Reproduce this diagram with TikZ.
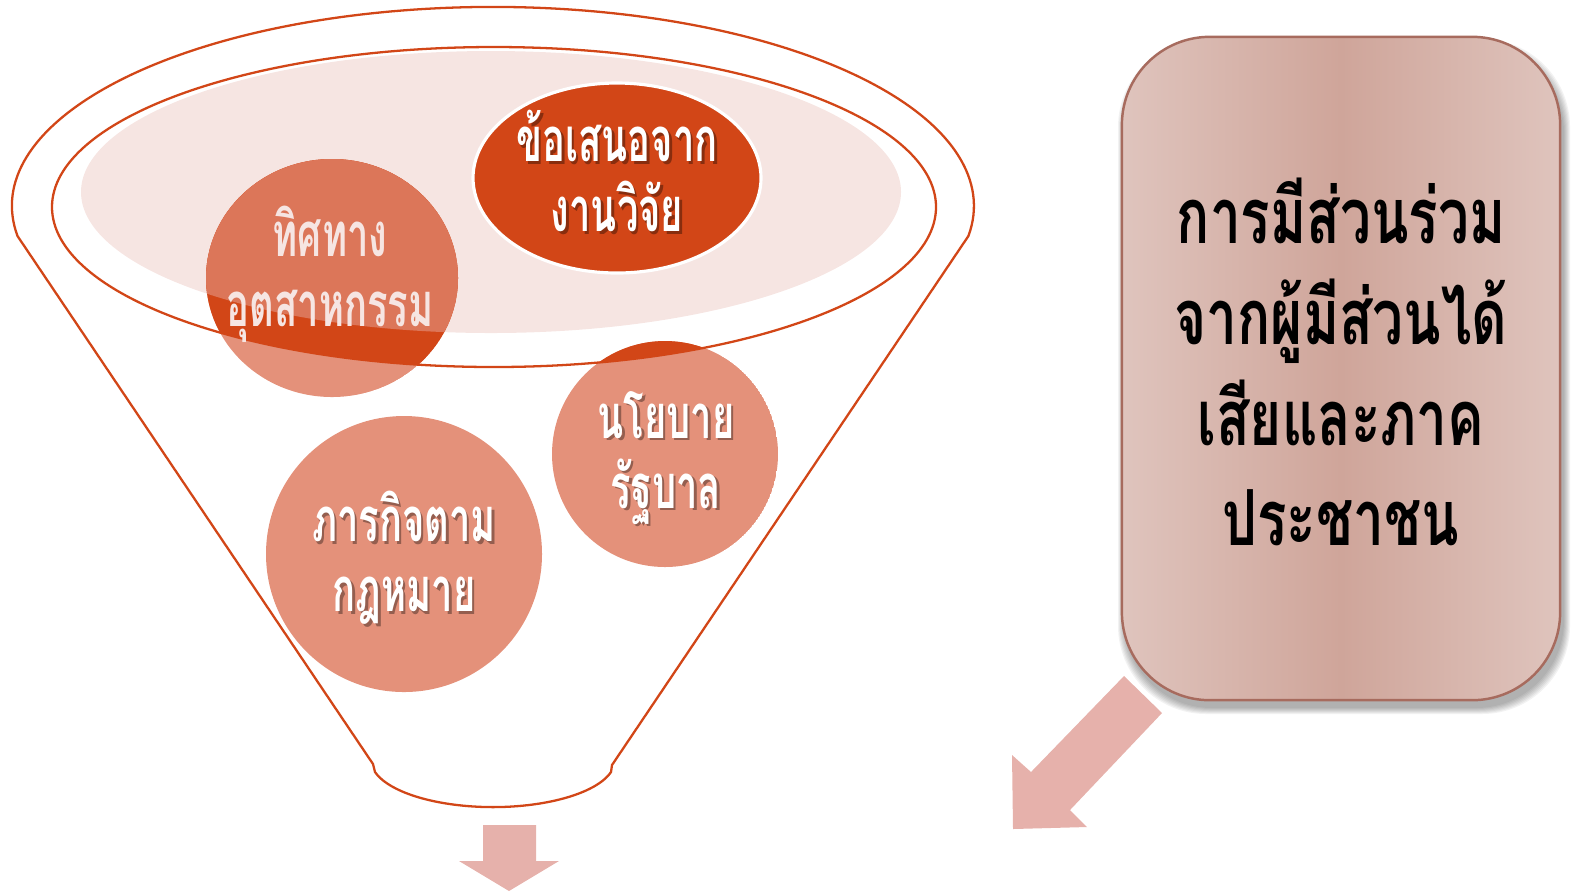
\documentclass[tikz,border=0pt]{standalone}
\usepackage{fontspec}
\newfontfamily\thaiC[Script=Thai,FakeStretch=0.62]{Loma}
\newfontfamily\thaiB[Script=Thai,FakeStretch=0.71]{Loma}
\definecolor{dark}{HTML}{D24617}
\definecolor{mid}{HTML}{DC7659}
\definecolor{light}{HTML}{E4917A}
\definecolor{pinkbg}{HTML}{F6E5E2}
\definecolor{arrowc}{HTML}{E6B1AB}
\definecolor{boxA}{HTML}{DFC4BD}
\definecolor{boxB}{HTML}{CFA59A}
\definecolor{boxline}{HTML}{A76B5E}
\tikzset{
  ctxt/.style={align=center, text=white, font=\thaiC\bfseries\fontsize{17.5pt}{19.9pt}\selectfont, inner sep=0pt},
  cshadow/.style={ctxt, text=black, opacity=0.35, xshift=0.025cm, yshift=-0.025cm},
  funnelline/.style={draw=dark, line width=0.65pt},
  blockarrow/.style={fill=arrowc},
}
\newcommand\circtext[3]{%
  \node[cshadow] (#1s) at (#2) {#3};
  \node[ctxt] (#1) at (#2) {#3};}
\begin{document}
\begin{tikzpicture}[x=0.01cm,y=-0.01cm]
\useasboundingbox (0,0) rectangle (1574,893);
% light pink ellipse
\fill[pinkbg] (491,192) ellipse [x radius=410, y radius=141];
% circle: industry direction
\begin{scope}
  \clip (332,278) ellipse [x radius=126, y radius=119];
  \fill[light] (332,278) ellipse [x radius=126, y radius=119];
  \fill[dark] (494,207) ellipse [x radius=442, y radius=160];
  \fill[mid] (491,192) ellipse [x radius=410, y radius=141];
\end{scope}
% circle: government policy
\begin{scope}
  \clip (665,454) circle [radius=113];
  \fill[light] (665,454) circle [radius=113];
  \fill[dark] (494,207) ellipse [x radius=442, y radius=160];
\end{scope}
% circle: legal mission
\fill[light] (404,554) circle [radius=138];
% research ellipse
\draw[draw=white, line width=0.9pt, fill=dark] (617,178) ellipse [x radius=144, y radius=95];
% funnel outline
\draw[funnelline] (373,764) -- (17.5,236)
  arc[start angle=171.3, end angle=368.7, x radius=481, y radius=199]
  -- (612,765) -- (611,772)
  arc[start angle=14.7, end angle=165.3, x radius=122, y radius=47] -- cycle;
\draw[funnelline] (494,207) ellipse [x radius=442, y radius=160];
% texts in circles
\circtext{research}{617,171}{ข้อเสนอจาก\\งานวิจัย}
\node[ctxt, text=pinkbg] (industry) at (330,274) {ทิศทาง\\อุตสาหกรรม};
\circtext{policy}{666,458}{นโยบาย\\รัฐบาล}
\circtext{legal}{404,558}{ภารกิจตาม\\กฎหมาย}
% right box shadow
\foreach \k in {1,...,7}{
  \fill[black, opacity=0.05, rounded corners=0.88cm]
    (1122+3-\k,37+9-\k) rectangle (1560+3+\k,700+7+\k);
}
\node[draw=boxline, line width=0.7pt, rounded corners=0.88cm,
  minimum width=4.38cm, minimum height=6.63cm,
  left color=boxA, right color=boxA, middle color=boxB] (box) at (1341,368.5) {};
\node[align=center, font=\thaiB\bfseries\fontsize{22pt}{28.7pt}\selectfont, inner sep=0pt]
  (boxtext) at (1341,362) {การมีส่วนร่วม\\จากผู้มีส่วนได้\\เสียและภาค\\ประชาชน};
% block arrows
\fill[blockarrow] (483,825) -- (536,825) -- (536,861) -- (559,861) -- (509,891) -- (459,861) -- (483,861) -- cycle;
\fill[blockarrow] (1124,676) -- (1162,713) -- (1070,810) -- (1087,827) -- (1013,829) -- (1012,755) -- (1031,772) -- cycle;
\end{tikzpicture}
\end{document}
